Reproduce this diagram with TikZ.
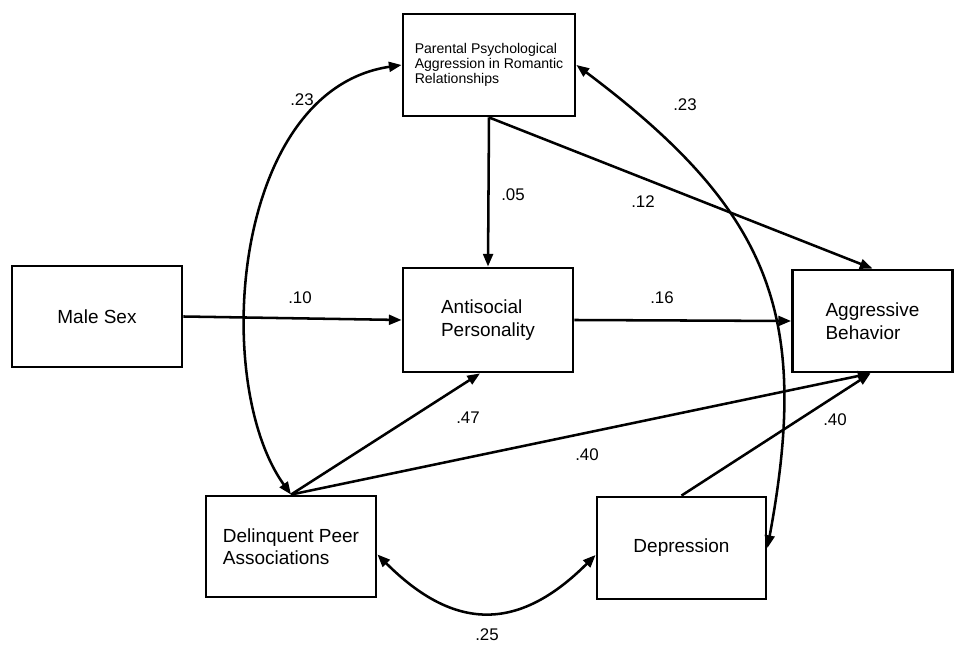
\documentclass[tikz,border=0pt]{standalone}
\usepackage{fontspec}
\setmainfont{Liberation Sans}
\usetikzlibrary{arrows.meta}
\begin{document}
\begin{tikzpicture}[x=0.025cm,y=0.025cm,
  box/.style={draw, line width=2pt, inner sep=0pt, align=left, font=\fontsize{13.5}{16}\selectfont},
  lab/.style={font=\fontsize{12}{14}\selectfont, inner sep=1pt},
  arr/.style={line width=1.8pt, -{Triangle[length=9pt,width=7pt]}},
  darr/.style={line width=1.8pt, {Triangle[length=9pt,width=7pt]}-{Triangle[length=9pt,width=7pt]}}]
\useasboundingbox (0,0) rectangle (955,645);
\node[box, minimum width=4.3cm, minimum height=2.55cm, font=\fontsize{10}{10.8}\selectfont] (par) at (489,580) {Parental Psychological\\Aggression in Romantic\\Relationships};
\node[box, minimum width=4.25cm, minimum height=2.525cm] (male) at (97,328.5) {Male Sex};
\node[box, minimum width=4.25cm, minimum height=2.6cm] (anti) at (488,325) {Antisocial\\Personality};
\node[box, minimum width=4.0cm, minimum height=2.55cm] (agg) at (872.5,324) {Aggressive\\Behavior};
\node[box, minimum width=4.25cm, minimum height=2.525cm] (del) at (291,98.5) {Delinquent Peer\\Associations};
\node[box, minimum width=4.225cm, minimum height=2.55cm] (dep) at (681.5,97) {Depression};

\draw[arr] (par.south) -- (anti.north);
\draw[arr] (par.south) -- (agg.north);
\draw[arr] (male.east) -- (anti.west);
\draw[arr] (anti.east) -- (agg.west);
\draw[arr] (del.north) -- ([xshift=-0.2cm]anti.south);
\draw[arr] (del.north) -- ([xshift=-0.05cm]agg.south);
\draw[arr] (dep.north) -- ([xshift=-0.05cm]agg.south);
\draw[darr] (par.west) .. controls +(-170,-25) and +(-80,111) .. (del.north);
\draw[darr] (par.east) .. controls +(196,-147) and +(43,232) .. (dep.east);
\draw[darr] ([yshift=-0.2cm]del.east) .. controls +(77,-77) and +(-77,-77) .. ([yshift=-0.175cm]dep.west);

\node[lab] (l1) at (302,545) {.23};
\node[lab] (l2) at (685,540) {.23};
\node[lab] (l3) at (643,443) {.12};
\node[lab] (l4) at (513,450) {.05};
\node[lab] (l5) at (300,347) {.10};
\node[lab] (l6) at (662,347) {.16};
\node[lab] (l7) at (468,227) {.47};
\node[lab] (l8) at (587,190) {.40};
\node[lab] (l9) at (835,225) {.40};
\node[lab] (l10) at (487,10) {.25};
\end{tikzpicture}
\end{document}
